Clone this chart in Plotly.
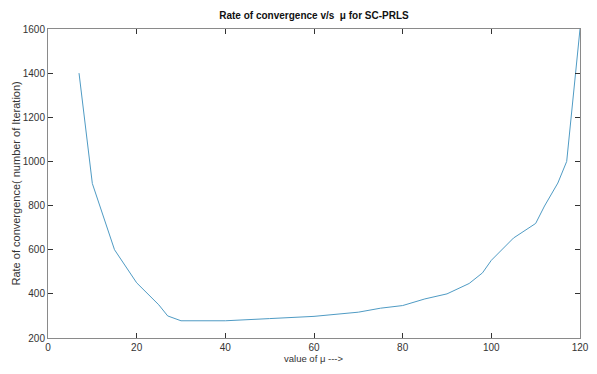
import plotly.graph_objects as go

mu_values = [7, 10, 15, 20, 25, 27, 30, 40, 50, 55, 60, 70, 75, 80, 85, 90, 95, 98, 100, 105, 110, 112, 115, 117, 120]
iterations = [1400, 900, 600, 450, 350, 300, 278, 278, 288, 294, 298, 317, 335, 347, 377, 400, 447, 495, 552, 653, 719, 798, 902, 1000, 1600]

x_ticks = [0, 20, 40, 60, 80, 100, 120]
y_ticks = [200, 400, 600, 800, 1000, 1200, 1400, 1600]

FONT = "Liberation Sans, Arial"
# page body has an 8px default margin on every side; size the figure to fit without scrollbars
W, H = 581, 358
L, R, T, B = 40, 9, 21, 28
PW = W - L - R
PH = H - T - B

fig = go.Figure()
fig.add_trace(go.Scatter(
    x=mu_values, y=iterations, mode="lines",
    line=dict(color="#4f9bc4", width=1),
    showlegend=False, cliponaxis=False,
))

axis_common = dict(
    showline=True, linecolor="#8a8a8a", linewidth=1, mirror="ticks",
    ticks="inside", ticklen=5, tickcolor="#333333", tickwidth=1,
    showgrid=False, zeroline=False, automargin=False,
    tickfont=dict(family=FONT, size=10, color="#333333"),
)

fig.update_layout(
    width=W, height=H,
    margin=dict(l=L, r=R, t=T, b=B, autoexpand=False),
    paper_bgcolor="white", plot_bgcolor="white",
    title=dict(
        text="<b>Rate of convergence v/s  μ for SC-PRLS</b>",
        x=(L + PW / 2) / W, xanchor="center",
        y=1 - 7 / H, yanchor="middle", yref="container",
        font=dict(family=FONT, size=10, color="#111111"),
        automargin=False,
    ),
    xaxis=dict(range=[0, 120], tickvals=x_ticks, **axis_common),
    yaxis=dict(range=[200, 1600], tickvals=y_ticks, **axis_common),
    annotations=[
        dict(text="value of μ --->", xref="paper", yref="paper",
             x=0.5, y=0, yshift=-B, xanchor="center", yanchor="bottom",
             showarrow=False, font=dict(family=FONT, size=9.5, color="#333333")),
        dict(text="Rate of convergence( number of Iteration)", xref="paper", yref="paper",
             x=-33 / PW, y=0.5, xanchor="center", yanchor="middle", textangle=-90,
             showarrow=False, font=dict(family=FONT, size=11, color="#333333")),
    ],
)

fig.write_html("out.html")
